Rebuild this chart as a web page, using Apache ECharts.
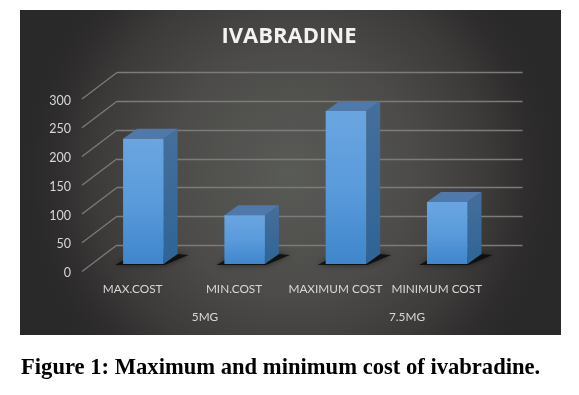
<!DOCTYPE html>
<html><head><meta charset="utf-8">
<style>html,body{margin:0;padding:0;background:#fff}#c{width:579px;height:395px}</style>
<script src="https://cdn.jsdelivr.net/npm/echarts@6/dist/echarts.min.js"></script>
</head><body><div id="c"></div>
<script>
const categories = ['MAX.COST','MIN.COST','MAXIMUM COST','MINIMUM COST'];
const doses = ['5MG','7.5MG'];
const costs = [218,85,266,108];
const ticks = [0,50,100,150,200,250,300];
const chartTitle = 'IVABRADINE';
const caption = 'Figure 1: Maximum and minimum cost of ivabradine.';

const label = {color:'#d8d8d8',fontFamily:'Lato',fontSize:11.8};
const chart = echarts.init(document.getElementById('c'),null,{renderer:'canvas'});
const depthX = 14, depthY = 10;
const lg = (a,b,c)=>new echarts.graphic.LinearGradient(0,0,0,1,c?[{offset:0,color:a},{offset:.5,color:b},{offset:1,color:c}]:[{offset:0,color:a},{offset:1,color:b}]);

function renderBar(params, api){
  const i = api.value(0);
  const top = api.coord([i, api.value(1)]);
  const base = api.coord([i, 0]);
  const w = api.size([1,0])[0]*0.4;
  const l = top[0]-w/2, r = top[0]+w/2, t = top[1], b = base[1];
  const poly = (pts,fill,extra)=>({type:'polygon',shape:{points:pts},style:Object.assign({fill},extra||{})});
  return {type:'group',children:[
    poly([[l-8,b+1],[r+1,b+1],[r+depthX+11,b-depthY+1],[r+depthX,b-depthY],[l+3,b-5]],'rgba(10,10,10,0.85)',{shadowBlur:6,shadowColor:'rgba(0,0,0,0.6)'}),
    poly([[r,t],[r+depthX,t-depthY],[r+depthX,b-depthY],[r,b]],lg('#456f9b','#2f6497')),
    poly([[l,t],[r,t],[r+depthX,t-depthY],[l+depthX,t-depthY]],'#4f79ab'),
    poly([[l,t],[r,t],[r,b],[l,b]],lg('#6aa5e0','#5a9bdc','#3f86cb'))
  ]};
}
function renderSlant(params, api){
  const p = api.coord([0, api.value(0)]);
  const x = p[0]-api.size([1,0])[0]/2;
  return {type:'line',shape:{x1:x,y1:p[1],x2:x+35,y2:p[1]-26.5},
    style:{stroke:'#7b7b79',lineWidth:1.3,fill:null}};
}
const hiddenX = d=>({type:'category',data:d,axisLine:{show:false},axisTick:{show:false},axisLabel:{show:false}});
const hiddenY = ()=>({type:'value',min:0,max:300,interval:50,axisLine:{show:false},axisTick:{show:false},axisLabel:{show:false},splitLine:{show:false}});

chart.setOption({
  animation:false,
  backgroundColor:'#ffffff',
  graphic:[{type:'rect',z:-1,shape:{x:20,y:10,width:541,height:325},
    style:{fill:new echarts.graphic.RadialGradient(0.5,0.5,0.84,[
      {offset:0,color:'#595b57'},{offset:.45,color:'#4c4b49'},{offset:.72,color:'#3d3b3a'},{offset:.88,color:'#2e2c2c'},{offset:1,color:'#292929'}])}}],
  title:[
    {text:chartTitle,left:289,top:26,padding:0,textAlign:'center',textStyle:{color:'#f2f2f2',fontFamily:'Open Sans',fontWeight:'bold',fontSize:22}},
    {text:caption,left:21,top:357,padding:0,textStyle:{color:'#000',fontFamily:'Liberation Serif',fontWeight:'bold',fontSize:22.6}}
  ],
  grid:[
    {left:117,top:72.5,width:405.5,height:172.5},   // back wall
    {left:82,top:99,width:405.5,height:172.5},      // front plane
    {left:92.7,top:91.5,width:405.2,height:172.5},  // bars
    {left:104,top:300,width:404,height:1},          // group labels
    {left:82,top:100.5,width:405.5,height:172.5}    // value labels
  ],
  xAxis:[
    Object.assign(hiddenX(categories),{gridIndex:0}),
    Object.assign(hiddenX(categories),{gridIndex:1,axisLabel:Object.assign({},label,{margin:12,interval:0})}),
    Object.assign(hiddenX(categories),{gridIndex:2}),
    Object.assign(hiddenX(doses),{gridIndex:3,axisLabel:Object.assign({},label,{margin:10,interval:0})}),
    Object.assign(hiddenX(categories),{gridIndex:4})
  ],
  yAxis:[
    Object.assign(hiddenY(),{gridIndex:0,splitLine:{show:true,lineStyle:{color:'#7b7b79',width:1.3}}}),
    Object.assign(hiddenY(),{gridIndex:1}),
    Object.assign(hiddenY(),{gridIndex:2}),
    Object.assign(hiddenY(),{gridIndex:3}),
    Object.assign(hiddenY(),{gridIndex:4,axisLabel:Object.assign({},label,{margin:11,fontSize:12.5})})
  ],
  series:[
    {type:'custom',xAxisIndex:1,yAxisIndex:1,renderItem:renderSlant,data:ticks.map(v=>[v]),encode:{y:0},silent:true,z:1},
    {type:'custom',xAxisIndex:2,yAxisIndex:2,renderItem:renderBar,data:costs.map((v,i)=>[i,v]),encode:{x:0,y:1},silent:true,z:3}
  ]
});
</script></body></html>
